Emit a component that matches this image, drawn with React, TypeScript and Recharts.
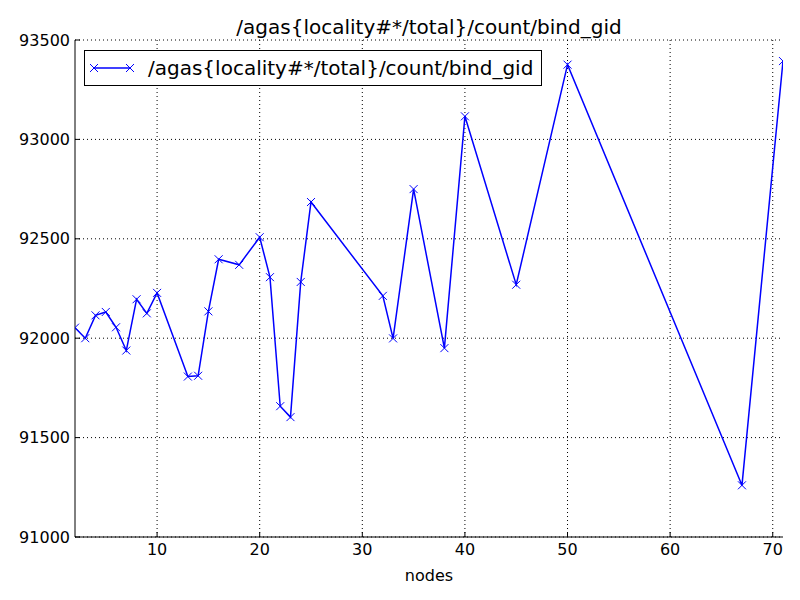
import React from "react";
import {
  CartesianGrid,
  Legend,
  Line,
  LineChart,
  XAxis,
  YAxis,
} from "recharts";

const seriesName = "/agas{locality#*/total}/count/bind_gid";

const nodes = [
  2, 3, 4, 5, 6, 7, 8, 9, 10, 13, 14, 15, 16, 18, 20, 21, 22, 23, 24, 25, 32,
  33, 35, 38, 40, 45, 50, 67, 71,
];
const counts = [
  92053, 92000, 92115, 92132, 92055, 91938, 92196, 92125, 92228, 91807, 91811,
  92135, 92397, 92369, 92508, 92307, 91658, 91603, 92283, 92685, 92213, 91999,
  92750, 91950, 93116, 92269, 93376, 91260, 93394,
];
const xTicks = [10, 20, 30, 40, 50, 60, 70];
const yTicks = [91000, 91500, 92000, 92500, 93000, 93500];

const data = nodes.map((n, i) => ({ nodes: n, count: counts[i] }));

const BLUE = "#0000ff";
const FONT = "DejaVu Sans";

// matplotlib style "x" marker
const Cross = (props: any) => {
  const { cx, cy, key } = props;
  if (cx == null || cy == null) return null;
  const s = 4;
  return (
    <g key={key}>
      <line x1={cx - s} y1={cy - s} x2={cx + s} y2={cy + s} stroke={BLUE} strokeWidth={1} />
      <line x1={cx - s} y1={cy + s} x2={cx + s} y2={cy - s} stroke={BLUE} strokeWidth={1} />
    </g>
  );
};

const LegendBox = () => (
  <div
    style={{
      boxSizing: "border-box",
      border: "1px solid #000",
      background: "#fff",
      display: "flex",
      alignItems: "center",
      width: 458,
      height: 36,
      paddingLeft: 8,
      fontFamily: FONT,
      fontSize: 20,
      whiteSpace: "nowrap",
    }}
  >
    <svg width={40} height={20} style={{ marginRight: 15, overflow: "visible" }}>
      <line x1={1} y1={10} x2={37} y2={10} stroke={BLUE} strokeWidth={1.5} />
      <Cross cx={1} cy={10} />
      <Cross cx={37} cy={10} />
    </svg>
    <span>{seriesName}</span>
  </div>
);

export default function App() {
  return (
    <div style={{ position: "absolute", left: 0, top: 0, width: 800, height: 600, background: "#fff" }}>
      <div
        style={{
          position: "absolute",
          left: 75,
          width: 708,
          top: 15,
          textAlign: "center",
          fontFamily: FONT,
          fontSize: 20,
        }}
      >
        {seriesName}
      </div>
      <LineChart
        width={800}
        height={600}
        data={data}
        margin={{ top: 40, right: 17, bottom: 23, left: 5 }}
      >
        <CartesianGrid
          stroke="#000"
          strokeDasharray="1 3"
          verticalValues={xTicks}
          horizontalValues={yTicks}
        />
        <XAxis
          dataKey="nodes"
          type="number"
          domain={[2, 71]}
          ticks={xTicks}
          allowDataOverflow
          height={40}
          stroke="#000"
          tickSize={-5}
          tickMargin={12}
          tick={{ fill: "#000", fontSize: 16, fontFamily: FONT }}
          label={{ value: "nodes", position: "insideBottom", offset: -4, fill: "#000", fontSize: 16, fontFamily: FONT }}
        />
        <XAxis
          xAxisId="top"
          orientation="top"
          dataKey="nodes"
          type="number"
          domain={[2, 71]}
          ticks={xTicks}
          allowDataOverflow
          height={0}
          stroke="#000"
          tickSize={-5}
          tick={false}
        />
        <YAxis
          type="number"
          domain={[91000, 93500]}
          ticks={yTicks}
          allowDataOverflow
          width={70}
          stroke="#000"
          tickSize={-5}
          tickMargin={10}
          tick={{ fill: "#000", fontSize: 16, fontFamily: FONT }}
        />
        <YAxis
          yAxisId="right"
          orientation="right"
          type="number"
          domain={[91000, 93500]}
          ticks={yTicks}
          allowDataOverflow
          width={0}
          stroke="#000"
          tickSize={-5}
          tick={false}
        />
        <Legend
          layout="horizontal"
          verticalAlign="middle"
          content={() => <LegendBox />}
          wrapperStyle={{ left: 84, top: 50, width: "auto" }}
        />
        <Line
          dataKey="count"
          name={seriesName}
          stroke={BLUE}
          strokeWidth={1.5}
          dot={Cross}
          activeDot={false}
          isAnimationActive={false}
        />
      </LineChart>
    </div>
  );
}
